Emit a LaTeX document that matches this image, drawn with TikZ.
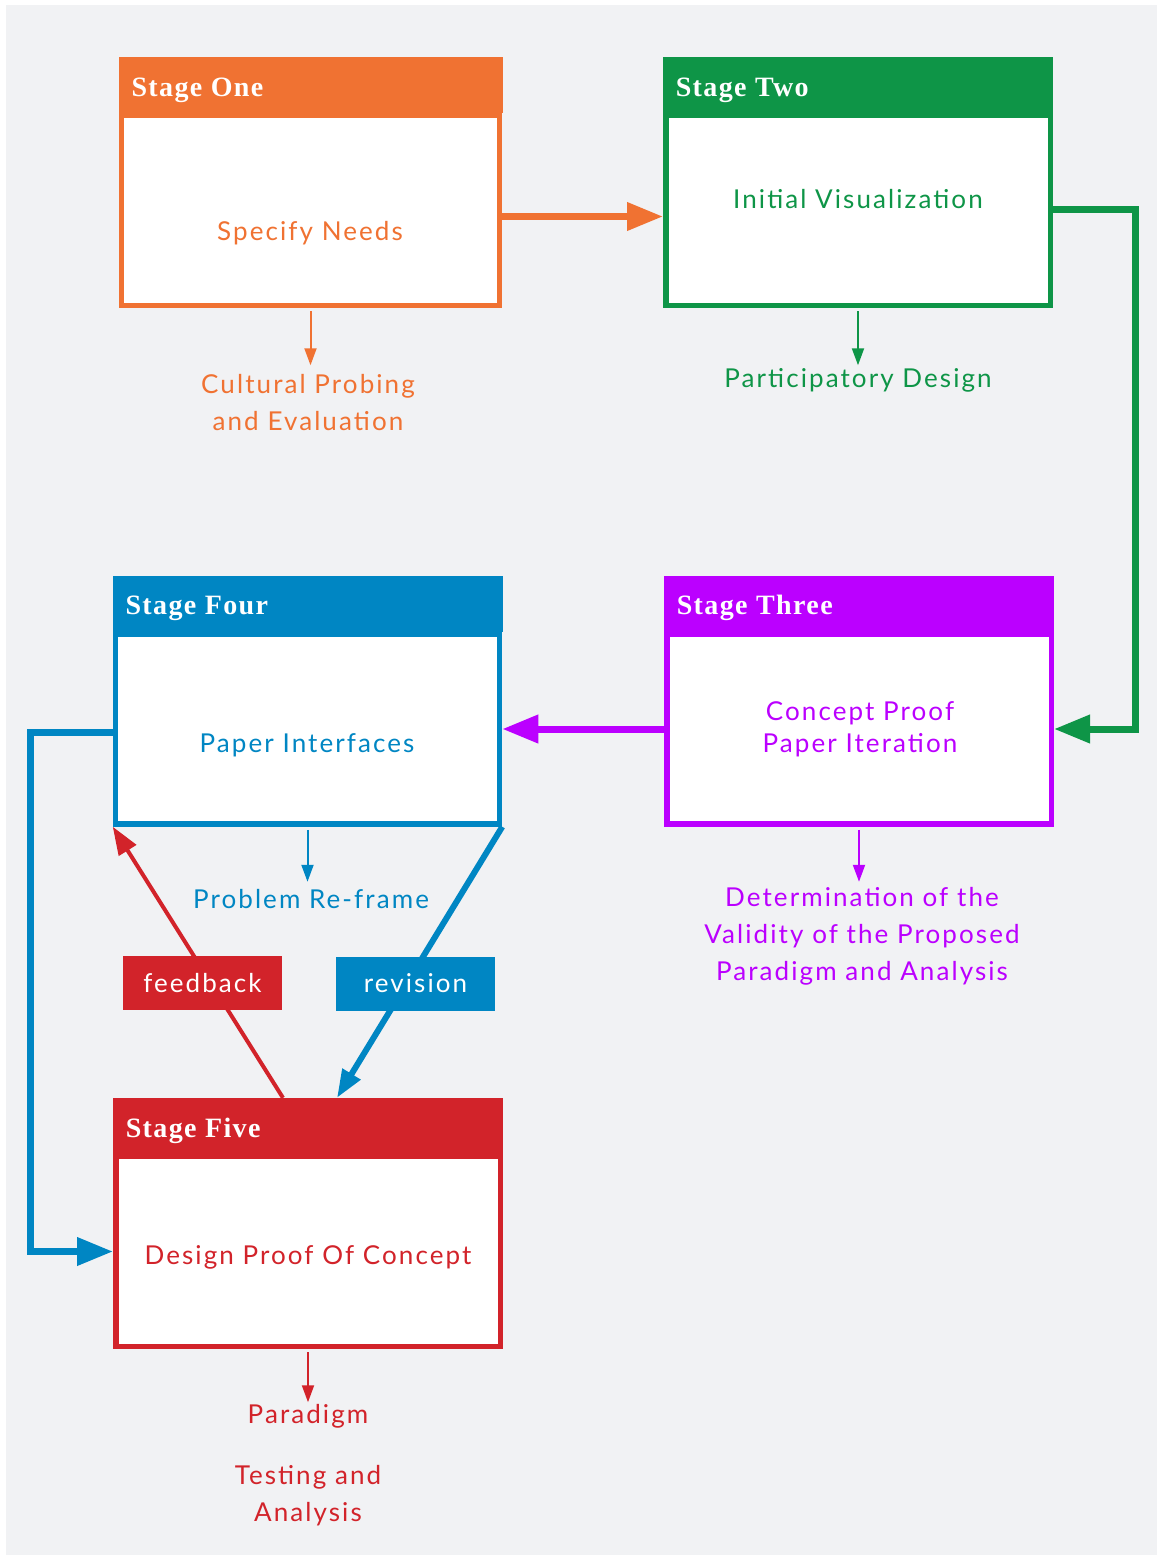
\documentclass[tikz,border=0pt]{standalone}
\usepackage{fontspec}
\setmainfont{Lato}
\newfontfamily\titlefont[LetterSpace=5]{Liberation Serif}
\newfontfamily\bodyfont[LetterSpace=8]{Lato}
\usetikzlibrary{arrows.meta,calc}

\definecolor{cOrange}{HTML}{F07232}
\definecolor{cGreen}{HTML}{0E9547}
\definecolor{cPurple}{HTML}{BB00FF}
\definecolor{cBlue}{HTML}{0086C3}
\definecolor{cRed}{HTML}{D2232A}
\definecolor{canvas}{HTML}{F1F2F4}

\tikzset{
  stagebody/.style={rectangle, draw=#1, line width=5.5pt, fill=white,
    minimum height=190pt, inner sep=0pt},
  stagehead/.style={rectangle, fill=#1,
    minimum height=56pt, inner sep=0pt, anchor=south},
  headtext/.style={text=white, inner sep=0pt, anchor=base west,
    font=\titlefont\bfseries\fontsize{28}{30}\selectfont},
  label/.style={text=#1, inner sep=0pt, align=center, anchor=base,
    font=\bodyfont\fontsize{26}{37}\selectfont},
  flow/.style={draw=#1, line width=7pt, -{Triangle[length=36pt,width=27pt]}},
  smallarrow/.style={draw=#1, line width=2pt, -{Triangle[length=17pt,width=12pt]}},
  loopline/.style={draw=#1, -{Triangle[length=28pt,width=20pt]}},
  tag/.style={rectangle, fill=#1, text=white, minimum width=159pt,
    minimum height=54pt, inner sep=0pt,
    font=\bodyfont\fontsize{26}{30}\selectfont},
}

% one stage: body frame, coloured header bar, title
% #1 name, #2 colour, #3 centre, #4 title, #5 frame width
\newcommand\mkstage[5]{%
  \node[stagebody=#2, minimum width=#5pt] (#1) at #3 {};
  \node[stagehead=#2, minimum width=#5pt+6pt] (#1-h) at ([yshift=-0.5pt]#1.north) {};
  \node[headtext] (#1-t) at ($(#1-h.south west)+(13,-17)$) {#4};
}

\begin{document}
\begin{tikzpicture}[x=1pt,y=-1pt]
  \useasboundingbox (0,0) rectangle (1157,1559);
  \fill[white] (0,0) rectangle (1157,1559);
  \fill[canvas] (6,5) rectangle (1157,1555);

  % stages
  \mkstage{s1}{cOrange}{(310.5,210.5)}{Stage One}{378}
  \mkstage{s2}{cGreen}{(858,210.5)}{Stage Two}{384.5}
  \mkstage{s3}{cPurple}{(859,729)}{Stage Three}{384.5}
  \mkstage{s4}{cBlue}{(307.5,729)}{Stage Four}{384}
  \mkstage{s5}{cRed}{(308,1251.5)}{Stage Five}{384.5}

  % texts inside the frames
  \node[label=cOrange] (t1) at (310,240) {Specify Needs};
  \node[label=cGreen] (t2) at (858,208) {Initial Visualization};
  \node[label=cPurple] (t3) at (860,752) {Concept Proof\\[-5pt]Paper Iteration};
  \node[label=cBlue] (t4) at (307,752) {Paper Interfaces};
  \node[label=cRed] (t5) at (308,1264) {Design Proof Of Concept};

  % outcomes below each stage
  \draw[smallarrow=cOrange] ([yshift=-3pt]s1.south) -- ++(0,54) coordinate (o1);
  \node[label=cOrange] (n1) at (308,430) {Cultural Probing\\and Evaluation};
  \draw[smallarrow=cGreen] ([yshift=-3pt]s2.south) -- ++(0,54) coordinate (o2);
  \node[label=cGreen] (n2) at (858,387) {Participatory Design};
  \draw[smallarrow=cPurple] ([yshift=-3pt]s3.south) -- ++(0,52) coordinate (o3);
  \node[label=cPurple] (n3) at (862,980) {Determination of the\\Validity of the Proposed\\Paradigm and Analysis};
  \draw[smallarrow=cBlue] ([yshift=-3pt]s4.south) -- ++(0,52) coordinate (o4);
  \node[label=cBlue] (n4) at (311,908) {Problem Re-frame};
  \draw[smallarrow=cRed] ([yshift=-3pt]s5.south) -- ++(0,50) coordinate (o5);
  \node[label=cRed] (n5) at (308,1521) {Paradigm\\[24pt]Testing and\\Analysis};

  % main flow
  \draw[flow=cOrange] ([yshift=-6pt]s1.east) -- ([yshift=-6pt]s2.west);
  \draw[flow=cGreen] ([yshift=1.5pt]s2.east) -- ++(82,0) |- (s3.east);
  \draw[flow=cPurple] (s3.west) -- (s4.east);
  \draw[flow=cBlue] ([yshift=-3pt]s4.west) -- ++(-82,0) |- (s5.west);

  % revision / feedback loop between stages four and five
  \draw[loopline=cBlue, line width=6pt] (s4.south east) -- ([xshift=29pt]s5-h.north);
  \draw[loopline=cRed, line width=4pt] ([xshift=-25pt]s5-h.north) -- (s4.south west);
  \node[tag=cRed] (fb) at (202.5,983) {feedback};
  \node[tag=cBlue] (rv) at (415.5,983.5) {revision};
\end{tikzpicture}
\end{document}
